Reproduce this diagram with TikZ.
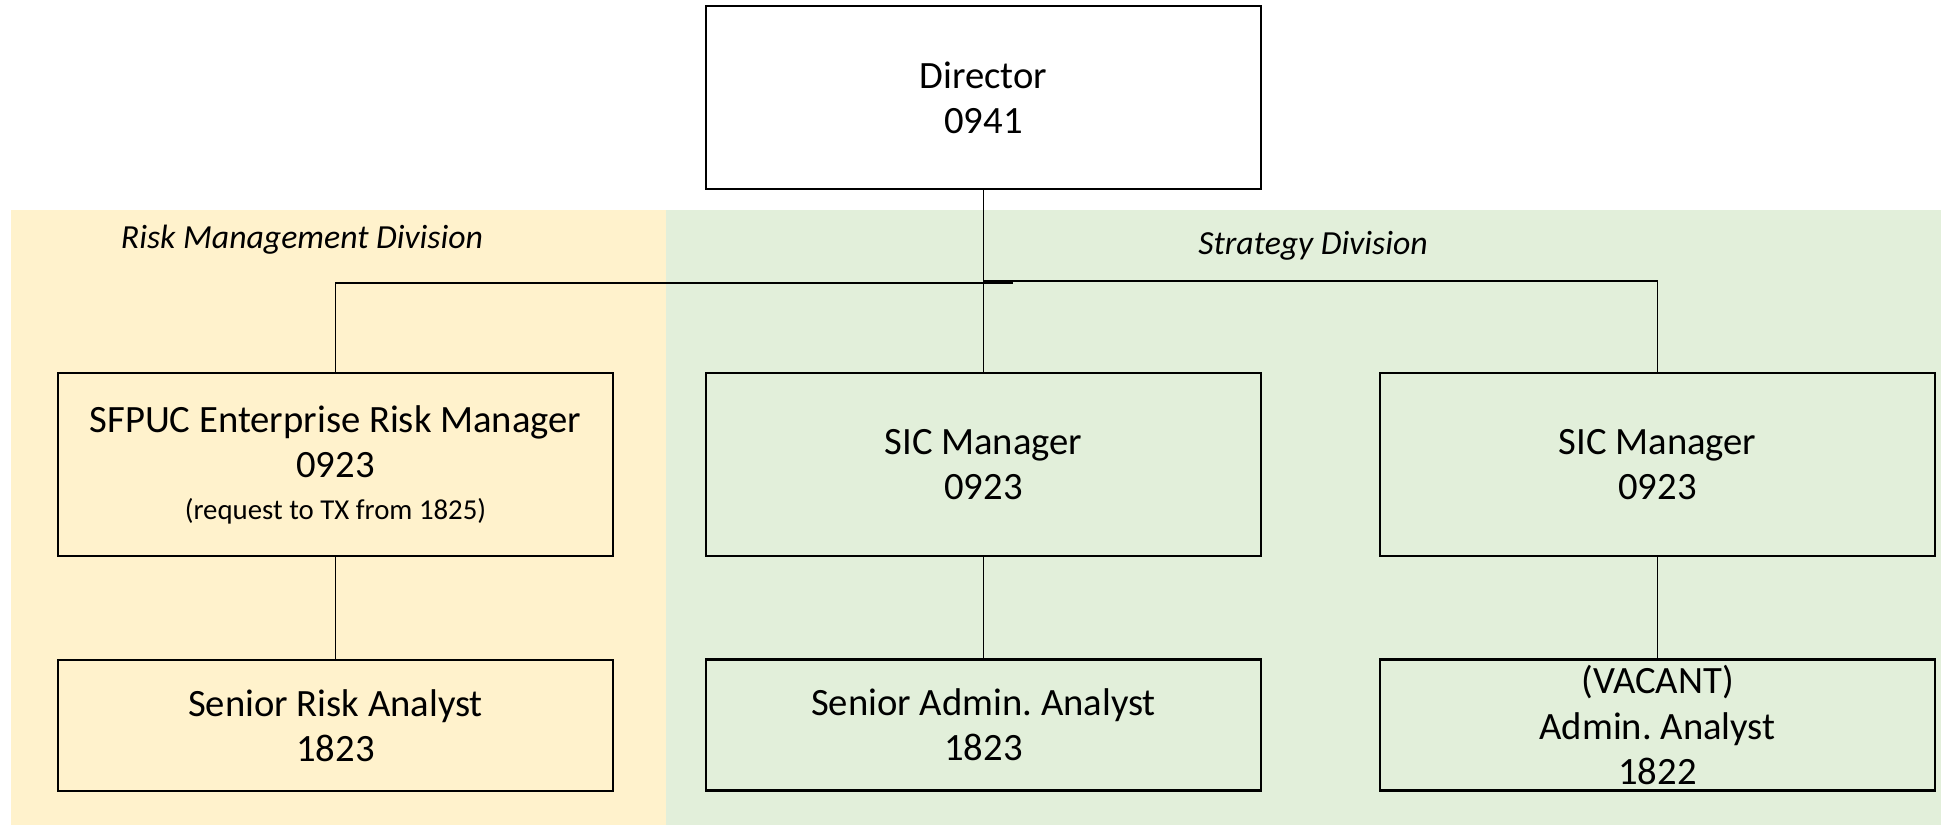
\documentclass[tikz,border=0pt]{standalone}
\usepackage{fontspec}
\setmainfont{Carlito}
\usepackage{tikz}
\usetikzlibrary{positioning}
\definecolor{riskYellow}{RGB}{255,242,204}
\definecolor{stratGreen}{RGB}{226,239,218}
\tikzstyle{roleBox}=[draw,line width=0.8pt,minimum width=5.55cm,minimum height=1.83cm,inner sep=0pt,align=center,font=\fontsize{11}{12.9}\selectfont]
\tikzstyle{lowBox}=[roleBox,minimum height=1.31cm]
\tikzstyle{divLabel}=[font=\fontsize{9.6}{11}\selectfont\itshape,inner sep=0pt]
\tikzstyle{link}=[line width=0.4pt]

\begin{document}
\frenchspacing
\begin{tikzpicture}

    \useasboundingbox (0, 0) rectangle (19.41, -8.25);

    % division areas
    \fill[riskYellow] (0.11, -2.10) rectangle (6.66, -8.25);
    \fill[stratGreen] (6.66, -2.10) rectangle (19.41, -8.25);

    \node[divLabel] (riskLbl) at (3.02, -2.40) {Risk Management Division};
    \node[divLabel] (stratLbl) at (13.13, -2.46) {Strategy Division};

    \node[roleBox,fill=white] (dir) at (9.835, -0.975) {Director\\0941};

    \node[roleBox,fill=riskYellow] (erm) at (3.355, -4.645) {SFPUC Enterprise Risk Manager\\0923\\[-1pt]{\fontsize{8.2}{10}\selectfont (request to TX from 1825)}};
    \node[roleBox,fill=stratGreen] (sic1) at (9.835, -4.645) {SIC Manager\\0923};
    \node[roleBox,fill=stratGreen] (sic2) at (16.575, -4.645) {SIC Manager\\0923};

    \node[lowBox,fill=riskYellow] (sra) at (3.355, -7.255) {Senior Risk Analyst\\1823};
    \node[lowBox,fill=stratGreen] (saa) at (9.835, -7.25) {Senior Admin. Analyst\\1823};
    \node[lowBox,fill=stratGreen] (aa) at (16.575, -7.25) {(VACANT)\\Admin. Analyst\\1822};

    \coordinate (busEnd) at (10.13, -2.83);

    \draw[link] (dir) to (sic1);
    \draw[link] (erm.north) |- (busEnd);
    \draw[link] (sic2.north) |- ([yshift=0.2mm]dir.south |- busEnd);

    \draw[link] (erm) to (sra);
    \draw[link] (sic1) to (saa);
    \draw[link] (sic2) to (aa);

\end{tikzpicture}
\end{document}
